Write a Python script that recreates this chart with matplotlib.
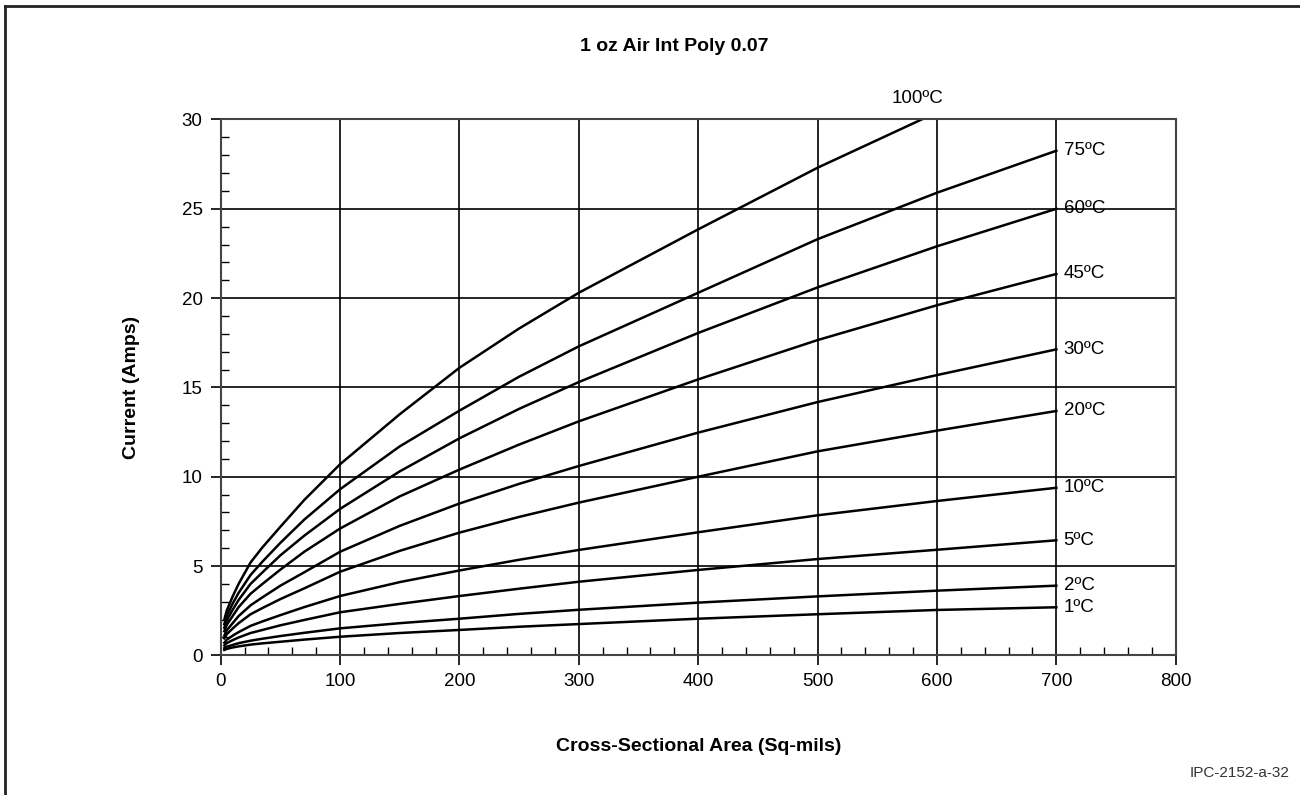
import numpy as np
import matplotlib.pyplot as plt
from matplotlib.lines import Line2D
from matplotlib.ticker import MultipleLocator

plt.rcParams['font.family'] = ['Liberation Sans', 'DejaVu Sans']

# cross-sectional area (sq-mils) where the curves were read
area = [3, 5, 10, 15, 25, 35, 50, 70, 100, 150, 200, 250, 300, 400, 500, 600, 700]

# current (amps) for each temperature rise
t100 = [2.0, 2.5, 3.3, 4.0, 5.2, 6.05, 7.2, 8.7, 10.7, 13.5, 16.1, 18.3, 20.3, 23.85, 27.3, 30.4]
t75 = [1.75, 2.2, 2.9, 3.5, 4.5, 5.25, 6.3, 7.6, 9.3, 11.7, 13.7, 15.6, 17.3, 20.3, 23.3, 25.9, 28.25]
t60 = [1.55, 1.95, 2.55, 3.1, 4.0, 4.65, 5.6, 6.7, 8.2, 10.3, 12.15, 13.8, 15.3, 18.05, 20.6, 22.9, 25.0]
t45 = [1.35, 1.7, 2.2, 2.7, 3.45, 4.0, 4.8, 5.8, 7.1, 8.9, 10.4, 11.8, 13.1, 15.45, 17.65, 19.6, 21.35]
t30 = [1.1, 1.4, 1.8, 2.2, 2.8, 3.25, 3.9, 4.65, 5.8, 7.25, 8.5, 9.6, 10.6, 12.47, 14.18, 15.69, 17.13]
t20 = [0.95, 1.18, 1.5, 1.8, 2.3, 2.65, 3.15, 3.75, 4.68, 5.85, 6.87, 7.75, 8.55, 10.0, 11.42, 12.58, 13.68]
t10 = [0.7, 0.87, 1.1, 1.3, 1.65, 1.9, 2.25, 2.7, 3.32, 4.1, 4.75, 5.35, 5.9, 6.89, 7.84, 8.64, 9.38]
t5 = [0.55, 0.68, 0.85, 1.0, 1.25, 1.42, 1.68, 1.98, 2.41, 2.88, 3.32, 3.73, 4.12, 4.78, 5.39, 5.91, 6.44]
t2 = [0.4, 0.48, 0.58, 0.68, 0.82, 0.93, 1.08, 1.26, 1.51, 1.8, 2.05, 2.32, 2.55, 2.95, 3.3, 3.62, 3.9]
t1 = [0.3, 0.36, 0.44, 0.5, 0.6, 0.67, 0.76, 0.88, 1.04, 1.25, 1.42, 1.6, 1.75, 2.05, 2.3, 2.54, 2.69]

series = [t100, t75, t60, t45, t30, t20, t10, t5, t2, t1]
labels = ['100ºC', '75ºC', '60ºC', '45ºC', '30ºC', '20ºC', '10ºC', '5ºC', '2ºC', '1ºC']

fig = plt.figure(figsize=(13, 7.95), dpi=100)
ax = fig.add_axes([0.1698, 0.1757, 0.7346, 0.674])

for vals, lab in zip(series, labels):
    ax.plot(area[:len(vals)], vals, color='black', lw=1.8, solid_joinstyle='round')
    if lab == '100ºC':
        ax.text(584, 31.2, lab, ha='center', va='center', fontsize=13.5)
    else:
        ax.text(706, vals[-1], lab, ha='left', va='center', fontsize=13.5)

ax.set_xlim(0, 800)
ax.set_ylim(0, 30)
ax.xaxis.set_major_locator(MultipleLocator(100))
ax.xaxis.set_minor_locator(MultipleLocator(20))
ax.yaxis.set_major_locator(MultipleLocator(5))
ax.yaxis.set_minor_locator(MultipleLocator(1))
ax.tick_params(which='major', direction='out', length=7, width=1.2, labelsize=13.5, pad=6)
ax.tick_params(which='minor', direction='in', length=6, width=1)
ax.grid(which='major', color='black', lw=1.2)
ax.set_axisbelow(True)
for s in ax.spines.values():
    s.set_color('#444444')
    s.set_linewidth(1.5)

ax.set_xlabel('Cross-Sectional Area (Sq-mils)', fontsize=14, fontweight='bold', labelpad=34)
ax.set_ylabel('Current (Amps)', fontsize=14, fontweight='bold', labelpad=30)
fig.text(0.519, 0.941, '1 oz Air Int Poly 0.07', ha='center', va='center',
         fontsize=14, fontweight='bold')
fig.text(0.992, 0.028, 'IPC-2152-a-32', ha='right', va='center', fontsize=11, color='#333333')

# outer frame
fig.add_artist(Line2D([0.004, 0.004], [0, 0.993], color='#222222', lw=2))
fig.add_artist(Line2D([0.004, 1.0], [0.993, 0.993], color='#222222', lw=2))

fig.savefig('out.png', dpi=100)
